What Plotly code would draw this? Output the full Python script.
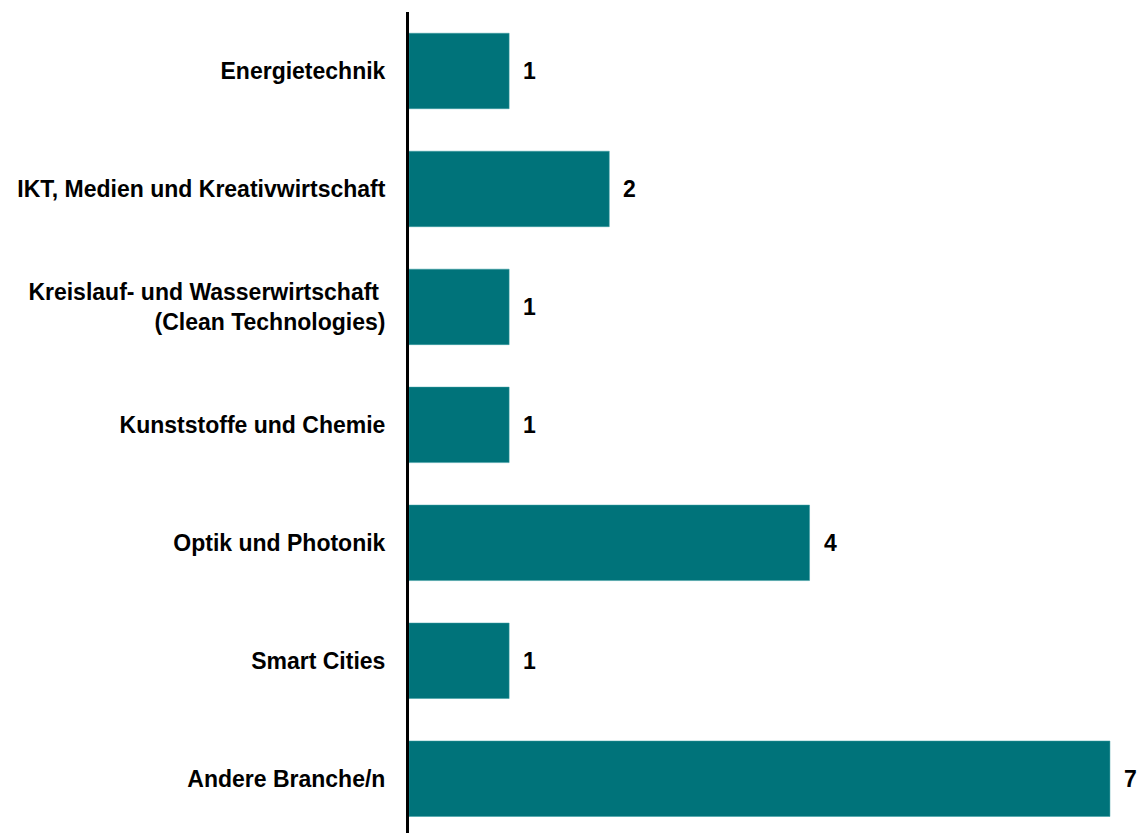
import plotly.graph_objects as go

categories = [
    "Energietechnik",
    "IKT, Medien und Kreativwirtschaft",
    "Kreislauf- und Wasserwirtschaft <br>(Clean Technologies)",
    "Kunststoffe und Chemie",
    "Optik und Photonik",
    "Smart Cities",
    "Andere Branche/n",
]
values = [1, 2, 1, 1, 4, 1, 7]

FONT = "Liberation Sans, Arial"

fig = go.Figure()
fig.add_trace(go.Bar(
    x=values, y=categories, orientation="h",
    marker=dict(color="#00737A", line=dict(color="#3a9ca2", width=0.5)),
    width=0.64, hoverinfo="skip",
))
for c, v in zip(categories, values):
    fig.add_annotation(x=v, y=c, text=f"<b>{v}</b>", showarrow=False,
                       xanchor="left", xshift=12,
                       font=dict(family=FONT, size=23, color="black"))

fig.update_layout(
    width=1137, height=825,
    margin=dict(l=401, r=0, t=4, b=0),
    plot_bgcolor="white", paper_bgcolor="white",
    showlegend=False,
    font=dict(family=FONT, size=23, color="black"),
    xaxis=dict(range=[0, 7.35], visible=False, fixedrange=True),
    yaxis=dict(range=[6.46, -0.5], showline=True, linecolor="black", linewidth=3,
               ticks="", showgrid=False, ticklabelstandoff=16,
               tickfont=dict(family=FONT, size=23, color="black", weight="bold")),
)
fig.write_html("out.html")
